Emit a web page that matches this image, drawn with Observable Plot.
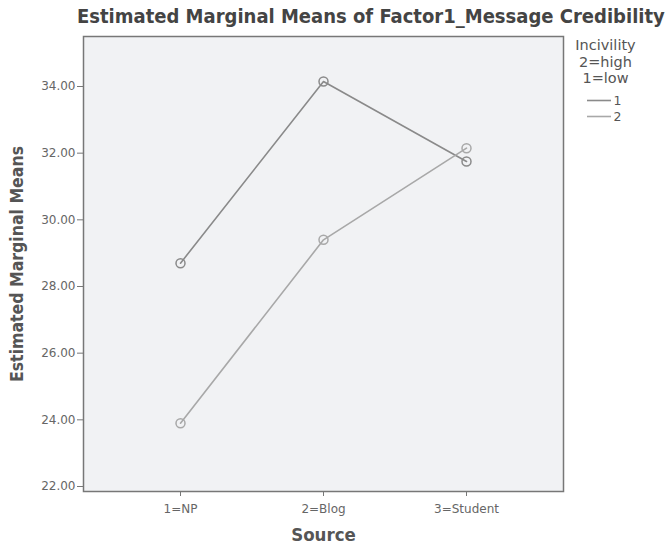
<!DOCTYPE html>
<html>
<head>
<meta charset="utf-8">
<script src="https://cdn.jsdelivr.net/npm/d3@7"></script>
<script src="https://cdn.jsdelivr.net/npm/@observablehq/plot@0.6"></script>
<style>
  html, body { margin: 0; padding: 0; background: #fff; }
  #wrap { position: relative; width: 665px; height: 548px; overflow: hidden; }
  #title { height: 32px; line-height: 32px; padding-left: 77px; white-space: nowrap;
           font-family: "DejaVu Sans Condensed", "DejaVu Sans", sans-serif; font-weight: bold;
           font-size: 20px; color: #444; }
</style>
</head>
<body>
<div id="wrap">
  <div id="title">Estimated Marginal Means of Factor1_Message Credibility</div>
  <div id="chart"></div>
</div>
<script>
const sources = ["1=NP", "2=Blog", "3=Student"];
const incivility = ["1", "2"];
const incivility1 = [28.70, 34.15, 31.75];
const incivility2 = [23.90, 29.40, 32.15];
const yTicks = [22, 24, 26, 28, 30, 32, 34];
const legendTitle = ["Incivility", "2=high", "1=low"];

const data = [];
sources.forEach((s, i) => {
  data.push({source: s, inc: "1", mean: incivility1[i]});
  data.push({source: s, inc: "2", mean: incivility2[i]});
});

const fmt = d3.format(".2f");
const colors = ["#8a8a8a", "#a8a8a8"];
const boldFont = "DejaVu Sans Condensed, DejaVu Sans, sans-serif";
const titleOffsets = [9, 25.5, 42];
const keyOffsets = [64.5, 80.5];

const legendTitleMarks = legendTitle.map((t, i) =>
  Plot.text([t], {frameAnchor: "top-right", dx: 42, dy: titleOffsets[i], text: d => d,
    textAnchor: "middle", lineAnchor: "middle", fontSize: 14.5, fill: "#555"}));
const legendKeyMarks = incivility.map((k, i) =>
  Plot.text([k], {frameAnchor: "top-right", dx: 50, dy: keyOffsets[i], text: d => d,
    textAnchor: "start", lineAnchor: "middle", fontSize: 12.5, fill: "#555"}));

const chart = Plot.plot({
  width: 665,
  height: 516,
  marginTop: 4,
  marginLeft: 83,
  marginRight: 102,
  marginBottom: 57,
  style: {fontFamily: "DejaVu Sans, sans-serif", fontSize: "12px", color: "#666", background: "#fff", overflow: "visible"},
  x: {type: "point", domain: sources, padding: 0.667, label: null},
  y: {domain: [21.85, 35.5], label: null},
  color: {domain: incivility, range: colors},
  marks: [
    Plot.frame({fill: "#f1f2f4", stroke: null}),
    Plot.line(data, {x: "source", y: "mean", z: "inc", stroke: "inc", strokeWidth: 1.6}),
    Plot.dot(data, {x: "source", y: "mean", stroke: "inc", r: 4.5, strokeWidth: 1.5, fill: "none"}),
    Plot.frame({stroke: "#777", strokeWidth: 1.5}),
    Plot.axisY({ticks: yTicks, tickFormat: fmt, tickSize: 6, tickPadding: 2, label: null, stroke: "#777"}),
    Plot.axisX({tickSize: 5, tickPadding: 8, label: null, stroke: "#777"}),
    Plot.text(["Estimated Marginal Means"], {frameAnchor: "left", dx: -66, rotate: -90, text: d => d,
      textAnchor: "middle", lineAnchor: "middle",
      fontSize: 17.5, fontWeight: "bold", fill: "#555", fontFamily: boldFont}),
    Plot.text(["Source"], {frameAnchor: "bottom", dy: 44, text: d => d,
      textAnchor: "middle", lineAnchor: "middle",
      fontSize: 18.5, fontWeight: "bold", fill: "#555", fontFamily: boldFont}),
    ...legendTitleMarks,
    ...legendKeyMarks
  ]
});

document.getElementById("chart").appendChild(chart);

// legend sample lines
const svg = d3.select(chart);
const colorScale = chart.scale("color");
incivility.forEach((k, i) => {
  svg.append("line")
    .attr("x1", 665 - 102 + 24).attr("x2", 665 - 102 + 48)
    .attr("y1", 4 + keyOffsets[i]).attr("y2", 4 + keyOffsets[i])
    .attr("stroke", colorScale.apply(k)).attr("stroke-width", 1.6);
});
</script>
</body>
</html>
